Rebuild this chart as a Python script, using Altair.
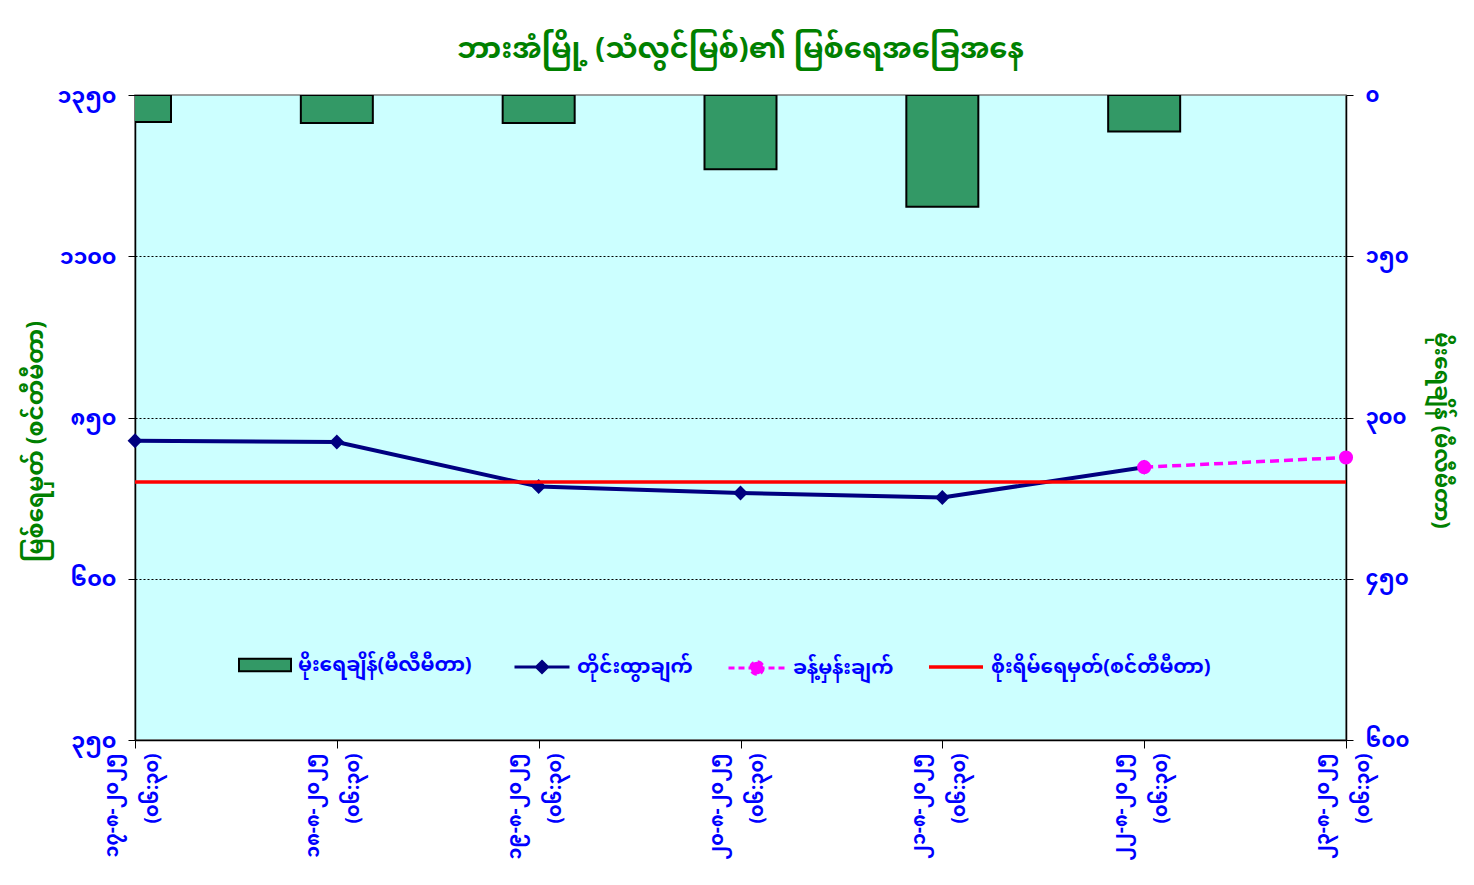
import altair as alt
import pandas as pd

FONT = "Noto Sans Myanmar, Padauk, Myanmar Text, Noto Sans, sans-serif"

title_text = "ဘားအံမြို့ (သံလွင်မြစ်)၏ မြစ်ရေအခြေအနေ"
left_title = "မြစ်ရေမှတ် (စင်တီမီတာ)"
right_title = "မိုးရေချိန် (မီလီမီတာ)"

dates = ["၁၇-၈-၂၀၂၅", "၁၈-၈-၂၀၂၅", "၁၉-၈-၂၀၂၅", "၂၀-၈-၂၀၂၅",
         "၂၁-၈-၂၀၂၅", "၂၂-၈-၂၀၂၅", "၂၃-၈-၂၀၂၅"]
times = ["(၀၆:၃၀)"] * 7
categories = [f"{d}|{t}" for d, t in zip(dates, times)]

rain_name = "မိုးရေချိန်(မီလီမီတာ)"
obs_name = "တိုင်းထွာချက်"
fc_name = "ခန့်မှန်းချက်"
danger_name = "စိုးရိမ်ရေမှတ်(စင်တီမီတာ)"

rain_values = [25, 26, 26, 69, 104, 34]          # mm, first 6 dates
obs_values = [814, 812, 743, 733, 726, 773]      # cm, first 6 dates
fc_values = [773, 788]                           # cm, dates 6 and 7
danger_level = 750

left_ticks = [350, 600, 850, 1100, 1350]
left_labels = ["၃၅၀", "၆၀၀", "၈၅၀", "၁၁၀၀", "၁၃၅၀"]
right_ticks = [0, 150, 300, 450, 600]
right_labels = ["၀", "၁၅၀", "၃၀၀", "၄၅၀", "၆၀၀"]

rain_df = pd.DataFrame({"cat": categories[:6], "rain": rain_values, "series": rain_name})
obs_df = pd.DataFrame({"cat": categories[:6], "level": obs_values, "series": obs_name})
fc_df = pd.DataFrame({"cat": categories[5:7], "level": fc_values, "series": fc_name})
danger_df = pd.DataFrame({"level": [danger_level], "series": [danger_name]})


def label_expr(ticks, labels):
    t = ",".join(str(v) for v in ticks)
    l = ",".join(f"'{s}'" for s in labels)
    return f"[{l}][indexof([{t}], datum.value)]"


x_enc = alt.X(
    "cat:N",
    sort=categories,
    scale=alt.Scale(type="point", padding=0, domain=categories),
    axis=alt.Axis(
        title=None,
        labelAngle=-90,
        labelExpr="split(datum.label, '|')",
        labelFont=FONT,
        labelFontSize=19,
        labelFontWeight="bold",
        labelColor="#0000FF",
        labelPadding=5,
        labelLineHeight=40,
        labelOffset=-24,
        tickColor="black",
        tickSize=8,
        domainColor="black",
        domainWidth=1.5,
        grid=False,
    ),
)

left_scale = alt.Scale(domain=[350, 1350], nice=False, zero=False)

left_axis = alt.Axis(
    title=left_title,
    values=left_ticks,
    labelExpr=label_expr(left_ticks, left_labels),
    labelFont=FONT,
    labelFontSize=22,
    labelFontWeight="bold",
    labelColor="#0000FF",
    labelPadding=12,
    titleFont=FONT,
    titleFontSize=23,
    titleFontWeight="bold",
    titleColor="#008000",
    titleY=346,
    titleX=-100,
    titleAngle=-90,
    titleBaseline="middle",
    tickColor="black",
    tickSize=7,
    domainColor="black",
    domainWidth=1.5,
    grid=True,
    gridColor="black",
    gridDash=[2, 2],
    gridWidth=1,
    gridOpacity={"condition": {"test": "datum.value == 1350 || datum.value == 350", "value": 0}, "value": 1},
)

right_axis = alt.Axis(
    title=right_title,
    orient="right",
    values=right_ticks,
    labelExpr=label_expr(right_ticks, right_labels),
    labelFont=FONT,
    labelFontSize=21,
    labelFontWeight="bold",
    labelColor="#0000FF",
    labelPadding=12,
    titleFont=FONT,
    titleFontSize=22,
    titleFontWeight="bold",
    titleColor="#008000",
    titleY=335,
    titleX=95,
    titleAngle=90,
    titleBaseline="middle",
    tickColor="black",
    tickSize=7,
    domainColor="black",
    domainWidth=1.5,
    grid=False,
)

bars = alt.Chart(rain_df).mark_bar(
    width=72, stroke="black", strokeWidth=2, clip=True
).encode(
    x=x_enc,
    y=alt.Y("rain:Q", scale=alt.Scale(domain=[0, 600], reverse=True, nice=False), axis=right_axis),
    fill=alt.Fill(
        "series:N",
        scale=alt.Scale(domain=[rain_name], range=["#339966"]),
        legend=alt.Legend(
            title=None, orient="none", legendX=103, legendY=543,
            symbolType="M-1,-0.24H1V0.24H-1Z", symbolSize=2704,
            symbolStrokeColor="black", symbolStrokeWidth=2,
        ),
    ),
)

obs = alt.Chart(obs_df).mark_line(
    strokeWidth=4,
    point=alt.OverlayMarkDef(shape="diamond", size=220, filled=True),
).encode(
    x=x_enc,
    y=alt.Y("level:Q", scale=left_scale, axis=left_axis),
    color=alt.Color(
        "series:N",
        scale=alt.Scale(domain=[obs_name], range=["#000080"]),
        legend=alt.Legend(
            title=None, orient="none", legendX=378, legendY=543,
            symbolType="M-1,0H1M0,-0.2L0.2,0L0,0.2L-0.2,0Z", symbolSize=3025,
            symbolStrokeWidth=3, symbolFillColor="#000080",
        ),
    ),
)

fc = alt.Chart(fc_df).mark_line(
    strokeWidth=3.5, strokeDash=[9, 5],
    point=alt.OverlayMarkDef(shape="circle", size=200, filled=True),
).encode(
    x=x_enc,
    y=alt.Y("level:Q", scale=left_scale, axis=left_axis),
    color=alt.Color(
        "series:N",
        scale=alt.Scale(domain=[fc_name], range=["#FF00FF"]),
        legend=alt.Legend(
            title=None, orient="none", legendX=592, legendY=543,
            symbolType="M-1,0H1M0.22,0A0.22,0.22,0,1,1,-0.22,0A0.22,0.22,0,1,1,0.22,0Z", symbolSize=3249,
            symbolStrokeWidth=3, symbolFillColor="#FF00FF", symbolDash=[6, 4],
        ),
    ),
)

danger = alt.Chart(danger_df).mark_rule(strokeWidth=3.5).encode(
    y=alt.Y("level:Q", scale=left_scale, axis=left_axis),
    color=alt.Color(
        "series:N",
        scale=alt.Scale(domain=[danger_name], range=["#FF0000"]),
        legend=alt.Legend(
            title=None, orient="none", legendX=792, legendY=543,
            symbolType="M-1,0H1", symbolSize=2916, symbolStrokeWidth=3.5,
        ),
    ),
)

water = alt.layer(obs, danger, fc).resolve_scale(color="independent")

chart = alt.layer(bars, water).resolve_scale(
    y="independent", color="independent", fill="independent"
).properties(
    width=1211,
    height=645,
    title=alt.TitleParams(
        text=title_text, font=FONT, fontSize=29, fontWeight="bold",
        color="#008000", anchor="middle", offset=20,
    ),
    autosize=alt.AutoSizeParams(type="none"),
    padding={"left": 127, "top": 87, "right": 120, "bottom": 135},
    background="white",
).configure_view(
    fill="#CCFFFF", stroke="#808080", strokeWidth=1.5
).configure_legend(
    labelFont=FONT, labelFontSize=20, labelFontWeight="bold", labelColor="#0000FF",
    labelOffset=6, padding=0, labelLimit=400,
)

chart.save("out.html", embed_options={"renderer": "svg", "actions": False})
